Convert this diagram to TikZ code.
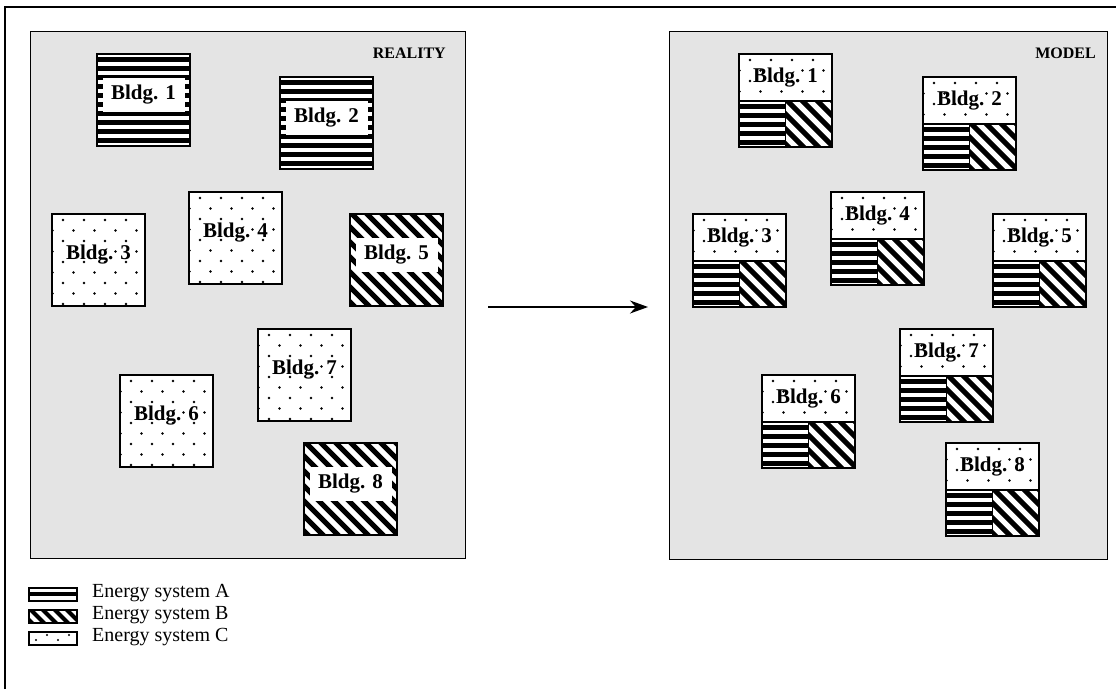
\documentclass[tikz,border=0pt]{standalone}
\usepackage{fontspec}
\setmainfont{Liberation Serif}
\usetikzlibrary{arrows.meta}
\definecolor{panelgray}{HTML}{E4E4E4}
\tikzset{
  panel/.style={draw, line width=1.4pt, fill=panelgray},
  bbox/.style={draw, line width=2pt, inner sep=0pt, outer sep=0pt, anchor=north west, minimum width=93pt, minimum height=92pt},
  part/.style={draw, line width=1.8pt, inner sep=0pt, outer sep=0pt, anchor=north west},
  lab/.style={font=\bfseries\fontsize{21}{21}\selectfont, inner sep=0pt, minimum width=82pt, minimum height=34pt},
  labw/.style={lab, fill=white},
  title/.style={font=\bfseries\fontsize{16}{16}\selectfont, inner sep=0pt, anchor=east},
  legtext/.style={font=\fontsize{20}{20}\selectfont, inner sep=0pt, anchor=west},
  swatch/.style={draw, line width=1.5pt, inner sep=0pt, anchor=north west, minimum width=48pt, minimum height=13pt},
}
% pattern fillers: x y w h
\newcommand\phst[4]{\begin{scope}\clip (#1,#2) rectangle ++(#3,#4);
  \foreach \k in {0,...,13} \fill ({#1-5},{#2+3+\k*9}) rectangle ++({#3+10},4.5);\end{scope}}
\newcommand\pdst[4]{\begin{scope}\clip (#1,#2) rectangle ++(#3,#4);
  \foreach \k in {-9,...,9} \draw[line width=5pt] ({#1+\k*15},{#2-2}) -- ++(130,130);\end{scope}}
\newcommand\pdts[4]{\begin{scope}\clip (#1,#2) rectangle ++(#3,#4);
  \foreach \r in {0,...,10} \foreach \c in {-1,...,5} \fill ({#1+11+21*\c+10.5*mod(\r,2)},{#2+6+10.5*\r}) circle (1.3);\end{scope}}
\newcommand\realbldg[6]{% name, x, y, pattern macro, label style, number
  \fill[white] (#2,#3) rectangle ++(93,92);
  #4{#2}{#3}{93}{92}
  \node[bbox] (#1) at (#2,#3) {};
  \node[#5] (#1l) at ([yshift=5pt]#1.center) {Bldg. #6};
}
\newcommand\modelbldg[4]{% name, x, y, number
  \fill[white] (#2,#3) rectangle ++(93,93);
  \pdts{#2}{#3}{93}{47}
  \phst{#2}{#3+47}{46.5}{46}
  \pdst{#2+46.5}{#3+47}{46.5}{46}
  \node[part, minimum width=93pt, minimum height=47pt] (#1t) at (#2,#3) {};
  \node[lab] (#1l) at (#1t.center) {Bldg. #4};
  \node[part, minimum width=46.5pt, minimum height=46pt, anchor=north west] (#1a) at (#1t.south west) {};
  \node[part, minimum width=46.5pt, minimum height=46pt, anchor=north east] (#1b) at (#1t.south east) {};
}
\begin{document}
\begin{tikzpicture}[x=1pt,y=-1pt]
\useasboundingbox (0,0) rectangle (1116,689);
% outer frame
\draw[line width=1.3pt] (5,689) -- (5,7) -- (1116,7);
% panels
\node[panel, inner sep=0pt, anchor=north west, minimum width=435pt, minimum height=527pt] (left) at (30,31) {};
\node[panel, inner sep=0pt, anchor=north west, minimum width=438pt, minimum height=528pt] (right) at (669,31) {};
\node[title] (reality) at (446,53) {REALITY};
\node[title] (model) at (1096,53) {MODEL};
% reality buildings
\realbldg{La}{97}{54}{\phst}{labw}{1}
\realbldg{Lb}{280}{77}{\phst}{labw}{2}
\realbldg{Lc}{52}{214}{\pdts}{lab}{3}
\realbldg{Ld}{189}{192}{\pdts}{lab}{4}
\realbldg{Le}{350}{214}{\pdst}{labw}{5}
\realbldg{Lf}{120}{375}{\pdts}{lab}{6}
\realbldg{Lg}{258}{329}{\pdts}{lab}{7}
\realbldg{Lh}{304}{443}{\pdst}{labw}{8}
% model buildings
\modelbldg{Ra}{739}{54}{1}
\modelbldg{Rb}{923}{77}{2}
\modelbldg{Rc}{693}{214}{3}
\modelbldg{Rd}{831}{192}{4}
\modelbldg{Re}{993}{214}{5}
\modelbldg{Rf}{762}{375}{6}
\modelbldg{Rg}{900}{329}{7}
\modelbldg{Rh}{946}{443}{8}
% arrow
\coordinate (a1) at (488,307);
\coordinate (a2) at (648,307);
\draw[line width=1.2pt, -{Stealth[length=18pt,width=13pt]}] (a1) -- (a2);
% legend
\fill[white] (28,587) rectangle ++(48,13);
\fill (28,592) rectangle ++(48,3.5);
\node[swatch] (legA) at (28,587) {};
\fill[white] (28,609) rectangle ++(48,13);
\begin{scope}\clip (28,609) rectangle ++(48,13);
  \foreach \k in {-2,...,4} \draw[line width=4pt] ({28+\k*12},607) -- ++(20,20);
\end{scope}
\node[swatch] (legB) at (28,609) {};
\fill[white] (28,631) rectangle ++(48,13);
\foreach \c in {0,...,3} \fill ({36+11*\c},{mod(\c,2)==0 ? 640 : 635}) circle (1.2);
\node[swatch] (legC) at (28,631) {};
\node[legtext] (legAt) at (92,593.5) {Energy system A};
\node[legtext] (legBt) at (92,615.5) {Energy system B};
\node[legtext] (legCt) at (92,637.5) {Energy system C};
\end{tikzpicture}
\end{document}
